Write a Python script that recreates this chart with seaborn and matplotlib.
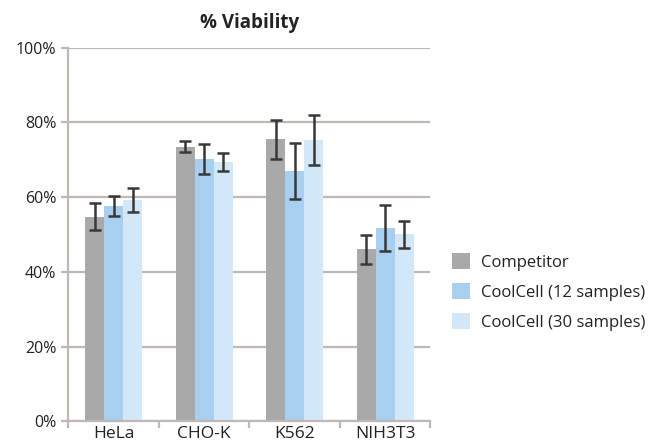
import numpy as np
import pandas as pd
import matplotlib
matplotlib.use("Agg")
import matplotlib.pyplot as plt
import seaborn as sns
from matplotlib.ticker import PercentFormatter, FixedLocator

cells = ["HeLa", "CHO-K", "K562", "NIH3T3"]
groups = ["Competitor", "CoolCell (12 samples)", "CoolCell (30 samples)"]

competitor = [54.8, 73.5, 75.5, 46.1]
coolcell_12 = [57.6, 70.1, 67.1, 51.7]
coolcell_30 = [59.2, 69.5, 75.3, 50.1]

competitor_err = [3.5, 1.5, 5.2, 3.9]
coolcell_12_err = [2.7, 4.0, 7.5, 6.2]
coolcell_30_err = [3.3, 2.4, 6.7, 3.6]

colors = ["#a9a9a9", "#a8cff0", "#d2e8f9"]
grid_col = "#c0b8b4"

df = pd.DataFrame({
    "cell": cells * 3,
    "group": np.repeat(groups, len(cells)),
    "viability": competitor + coolcell_12 + coolcell_30,
})
errs = [competitor_err, coolcell_12_err, coolcell_30_err]

sns.set_style("white")
plt.rcParams["font.family"] = ["Open Sans", "DejaVu Sans"]

fig = plt.figure(figsize=(6.63, 4.45), dpi=100)
ax = fig.add_axes([0.103, 0.053, 0.546, 0.840])

sns.barplot(data=df, x="cell", y="viability", hue="group", palette=colors,
            width=0.63, errorbar=None, saturation=1, linewidth=0, ax=ax, zorder=2)

# error bars on top of each bar
for cont, e in zip(ax.containers, errs):
    xs = [b.get_x() + b.get_width() / 2 for b in cont]
    ys = [b.get_height() for b in cont]
    ax.errorbar(xs, ys, yerr=e, fmt="none", ecolor="#383838", elinewidth=1.8,
                capsize=4.5, capthick=1.8, zorder=3)

ax.set_xlim(-0.5, 3.5)
ax.set_ylim(0, 100)
ax.yaxis.set_major_locator(FixedLocator([0, 20, 40, 60, 80, 100]))
ax.yaxis.set_major_formatter(PercentFormatter(decimals=0))
ax.grid(axis="y", color=grid_col, linewidth=1.6, zorder=0)
ax.set_axisbelow(True)

for s in ["top", "right"]:
    ax.spines[s].set_visible(False)
for s in ["left", "bottom"]:
    ax.spines[s].set_color(grid_col)
    ax.spines[s].set_linewidth(1.6)

ax.xaxis.set_minor_locator(FixedLocator([-0.5, 0.5, 1.5, 2.5, 3.5]))
ax.tick_params(axis="x", which="major", length=0, labelsize=12.5, pad=3,
               labelcolor="#222222")
ax.tick_params(axis="x", which="minor", length=5, width=1.6, color=grid_col,
               bottom=True)
ax.tick_params(axis="y", length=5, width=1.6, color=grid_col, labelsize=11.5,
               labelcolor="#222222", left=True, pad=3.5)
ax.set_xlabel("")
ax.set_ylabel("")

fig.text(0.376, 0.948, "% Viability", fontsize=13.5, fontweight="bold",
         color="#222222", ha="center", va="center")

ax.legend(loc="center left", bbox_to_anchor=(1.06, 0.346), frameon=False,
          fontsize=12, handlelength=1.05, handleheight=1.05, handletextpad=0.7,
          labelspacing=0.75, borderpad=0, borderaxespad=0, labelcolor="#222222")

fig.savefig("out.png", dpi=100)
